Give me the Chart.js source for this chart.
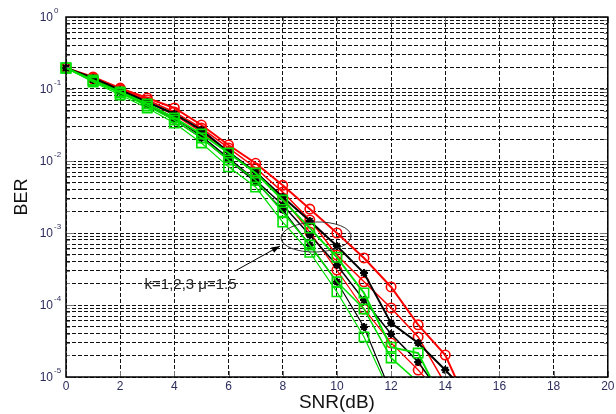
<!DOCTYPE html>
<html>
<head>
<meta charset="utf-8">
<script src="https://cdn.jsdelivr.net/npm/chart.js@4.4.0/dist/chart.umd.min.js"></script>
<style>
html, body { margin: 0; padding: 0; background: #fff; }
#wrap { width: 616px; height: 414px; }
</style>
</head>
<body>
<div id="wrap"><canvas id="myChart" width="616" height="414"></canvas></div>
<script>
'use strict';

// x values (SNR in dB)
const snr = [0, 1, 2, 3, 4, 5, 6, 7, 8, 9, 10, 11, 12, 13, 14, 15];

// red circles
const redA = [0.196, 0.147, 0.103, 0.075, 0.0545, 0.0316, 0.0167, 0.0093, 0.0046, 0.00215, 0.001, 0.00045, 0.000178, 5.3e-5, 2.02e-5, 3e-6];
const redB = [0.196, 0.142, 0.1, 0.0703, 0.048, 0.0287, 0.0152, 0.008, 0.0037, 0.00152, 0.000495, 0.00021, 9.1e-5, 3.6e-5, 8e-6];
const redC = [0.196, 0.138, 0.097, 0.066, 0.0435, 0.0253, 0.0133, 0.007, 0.00306, 0.00103, 0.000306, 8.8e-5, 2.97e-5, 1.25e-5, 4.8e-6];

// black stars
const blackA = [0.196, 0.142, 0.097, 0.066, 0.045, 0.027, 0.0133, 0.007, 0.00316, 0.00147, 0.00066, 0.000278, 5.6e-5, 2.97e-5, 1.25e-5, 5e-6];
const blackB = [0.196, 0.138, 0.094, 0.062, 0.0396, 0.0222, 0.011, 0.0054, 0.00245, 0.00094, 0.00036, 0.000117, 3.96e-5, 1.62e-5, 4.8e-6];
const blackC = [0.196, 0.133, 0.091, 0.06, 0.037, 0.0209, 0.0103, 0.0051, 0.0021, 0.00068, 0.00021, 4.95e-5, 6e-6];

// green squares
const greenA = [0.196, 0.133, 0.091, 0.062, 0.0396, 0.0237, 0.0129, 0.0068, 0.00287, 0.00117, 0.00046, 0.000147, 2.6e-5, 2.15e-5, 3.8e-6];
const greenB = [0.196, 0.129, 0.088, 0.058, 0.037, 0.0209, 0.0103, 0.0054, 0.00196, 0.00068, 0.00021, 8.8e-5, 1.84e-5, 8.5e-6];
const greenC = [0.196, 0.125, 0.0826, 0.0545, 0.0337, 0.0178, 0.0083, 0.00435, 0.00142, 0.00054, 0.000152, 3.6e-5, 5.6e-6];

// axis ticks
const xTicks = [0, 2, 4, 6, 8, 10, 12, 14, 16, 18, 20];
const yExponents = [0, -1, -2, -3, -4, -5];

const noteText = 'k=1,2,3 μ=1.5';

const RED = '#ff0000';
const BLACK = '#000000';
const GREEN = '#00e000';
const LABEL = '#2d2d5e';
const FONT = 'Arial, "Liberation Sans", sans-serif';

// all grid ticks of the log axis: 1..9 times each decade
let yGrid = [];
for (let e = -5; e < 0; e++) {
    for (let m = 1; m < 10; m++) {
        yGrid.push(m * Math.pow(10, e));
    }
}
yGrid.push(1);

function pts(vals) {
    return vals.map((v, i) => ({ x: snr[i], y: v }));
}

function line(vals, color, style, radius, width) {
    return {
        data: pts(vals),
        borderColor: color,
        backgroundColor: color,
        borderWidth: width,
        pointStyle: style,
        pointRadius: radius,
        pointBorderColor: color,
        pointBackgroundColor: style === 'star' ? color : 'rgba(0,0,0,0)',
        pointBorderWidth: style === 'star' ? 2 : 1.6,
        tension: 0,
        clip: { left: 10, top: 10, right: 10, bottom: 0 }
    };
}

// first datasets end up on top
let datasets = [
    line(greenA, GREEN, 'rect', 6.6, 2),
    line(greenB, GREEN, 'rect', 6.6, 1.5),
    line(greenC, GREEN, 'rect', 6.6, 1.2),
    line(blackA, BLACK, 'star', 4, 2),
    line(blackB, BLACK, 'star', 4, 1.5),
    line(blackC, BLACK, 'star', 4, 1.2),
    line(redA, RED, 'circle', 4.7, 2),
    line(redB, RED, 'circle', 4.7, 1.5),
    line(redC, RED, 'circle', 4.7, 1.2)
];

// tick labels, inner ticks, box and the note
const decorPlugin = {
    id: 'decor',
    afterDraw(chart) {
        const ctx = chart.ctx;
        const a = chart.chartArea;
        const xs = chart.scales.x;
        const ys = chart.scales.y;
        ctx.save();

        // inward ticks
        ctx.strokeStyle = '#777';
        ctx.lineWidth = 1;
        ctx.setLineDash([]);
        ctx.beginPath();
        for (let i = 0; i < yGrid.length; i++) {
            let v = yGrid[i];
            let py = Math.round(ys.getPixelForValue(v)) + 0.5;
            let major = Math.abs(Math.log10(v) - Math.round(Math.log10(v))) < 1e-9;
            let len = major ? 8 : 4;
            ctx.moveTo(a.left, py); ctx.lineTo(a.left + len, py);
            ctx.moveTo(a.right, py); ctx.lineTo(a.right - len, py);
        }
        for (let i = 0; i < xTicks.length; i++) {
            let px = Math.round(xs.getPixelForValue(xTicks[i])) + 0.5;
            ctx.moveTo(px, a.bottom); ctx.lineTo(px, a.bottom - 6);
            ctx.moveTo(px, a.top); ctx.lineTo(px, a.top + 6);
        }
        ctx.stroke();

        // box
        ctx.strokeStyle = '#000';
        ctx.lineWidth = 1.5;
        ctx.strokeRect(a.left, a.top, a.right - a.left, a.bottom - a.top);

        // x tick labels
        ctx.fillStyle = LABEL;
        ctx.font = '12px ' + FONT;
        ctx.textAlign = 'center';
        ctx.textBaseline = 'middle';
        for (let i = 0; i < xTicks.length; i++) {
            ctx.fillText(String(xTicks[i]), xs.getPixelForValue(xTicks[i]), a.bottom + 10);
        }

        // y tick labels: 10 with raised exponent
        for (let i = 0; i < yExponents.length; i++) {
            let e = yExponents[i];
            let py = ys.getPixelForValue(Math.pow(10, e));
            ctx.font = '12px ' + FONT;
            ctx.textAlign = 'right';
            ctx.fillText('10', a.left - 13, py + 1);
            ctx.font = '8px ' + FONT;
            ctx.textAlign = 'left';
            ctx.fillText(e === 0 ? '0' : '-' + Math.abs(e), a.left - 12, py - 6);
        }

        // ellipse around the SNR 9-10 points
        let cx = xs.getPixelForValue(9.23);
        let cy = ys.getPixelForValue(8.8e-4);
        ctx.strokeStyle = '#333';
        ctx.lineWidth = 1;
        ctx.beginPath();
        ctx.ellipse(cx, cy, 35, 15, -0.03, 0, Math.PI * 2);
        ctx.stroke();

        // arrow
        let x1 = xs.getPixelForValue(6.24);
        let y1 = ys.getPixelForValue(2.97e-4);
        let x2 = xs.getPixelForValue(7.9);
        let y2 = ys.getPixelForValue(6.6e-4);
        let ang = Math.atan2(y2 - y1, x2 - x1);
        ctx.strokeStyle = '#000';
        ctx.fillStyle = '#000';
        ctx.beginPath();
        ctx.moveTo(x1, y1);
        ctx.lineTo(x2, y2);
        ctx.stroke();
        ctx.beginPath();
        ctx.moveTo(x2, y2);
        ctx.lineTo(x2 - 9 * Math.cos(ang - 0.35), y2 - 9 * Math.sin(ang - 0.35));
        ctx.lineTo(x2 - 9 * Math.cos(ang + 0.35), y2 - 9 * Math.sin(ang + 0.35));
        ctx.closePath();
        ctx.fill();

        // note text
        ctx.font = '15px ' + FONT;
        ctx.textAlign = 'left';
        ctx.textBaseline = 'middle';
        ctx.fillStyle = '#222';
        ctx.fillText(noteText, xs.getPixelForValue(2.9), ys.getPixelForValue(1.9e-4));

        ctx.restore();
    }
};

let config = {
    type: 'line',
    data: { datasets: datasets },
    options: {
        responsive: false,
        animation: false,
        devicePixelRatio: 1,
        layout: { padding: { top: 17, right: 5, left: 0, bottom: 0 } },
        plugins: {
            legend: { display: false },
            tooltip: { enabled: false }
        },
        scales: {
            x: {
                type: 'linear',
                min: 0,
                max: 20,
                ticks: { display: false, stepSize: 2 },
                grid: { color: '#111', lineWidth: 1, drawTicks: false },
                border: { display: false, dash: [4, 2] },
                title: {
                    display: true,
                    text: 'SNR(dB)',
                    color: '#111',
                    font: { family: FONT, size: 19 },
                    padding: { top: 0, bottom: 0 }
                },
                afterFit(scale) { scale.height = 37; }
            },
            y: {
                type: 'logarithmic',
                min: 1e-5,
                max: 1,
                ticks: { display: false },
                afterBuildTicks(scale) {
                    scale.ticks = yGrid.map(v => ({ value: v }));
                },
                grid: { color: '#111', lineWidth: 1, drawTicks: false },
                border: { display: false, dash: [4, 2] },
                title: {
                    display: true,
                    text: 'BER',
                    color: '#111',
                    font: { family: FONT, size: 18 },
                    padding: { top: 11, bottom: 0 }
                },
                afterFit(scale) { scale.width = 66; }
            }
        }
    },
    plugins: [decorPlugin]
};

let myChart = new Chart(document.getElementById('myChart'), config);
</script>
</body>
</html>
